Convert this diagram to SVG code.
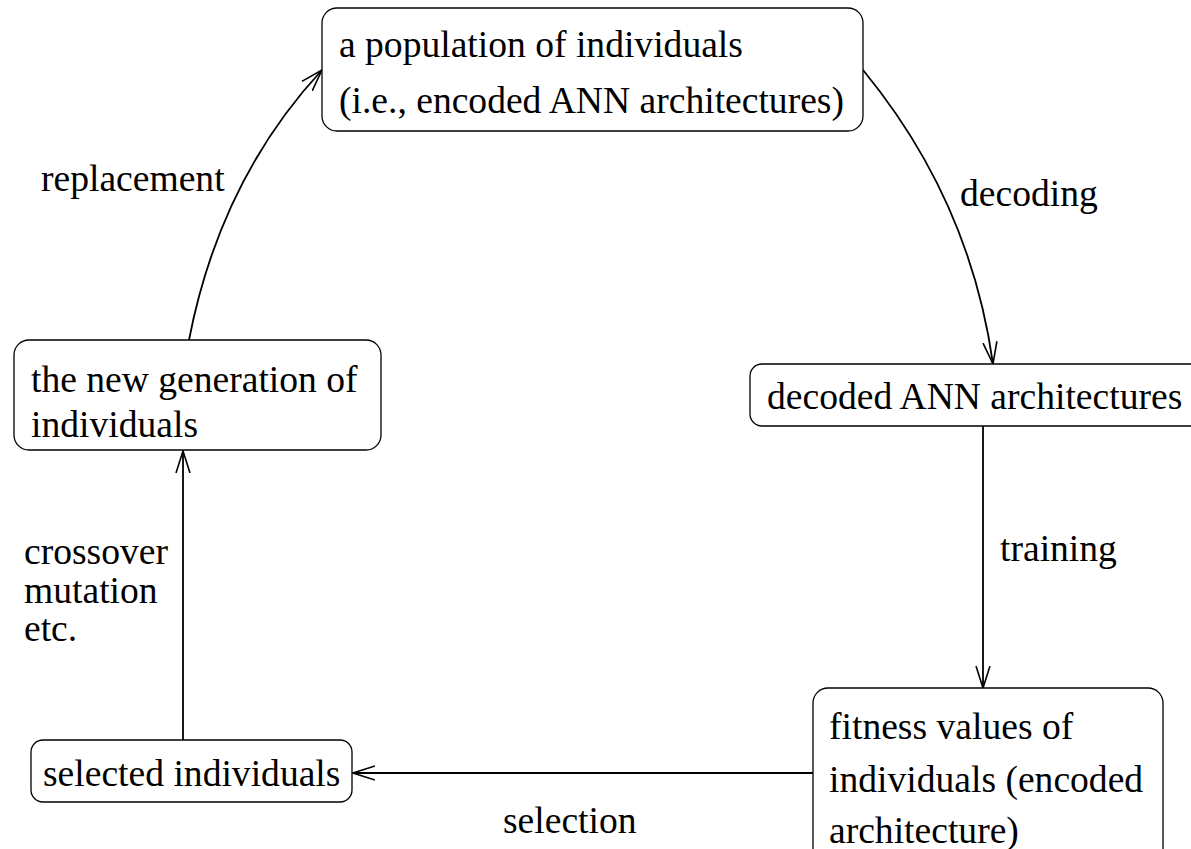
<svg xmlns="http://www.w3.org/2000/svg" width="1191" height="849" viewBox="0 0 1191 849">
<style>
.box{fill:#fff;stroke:#000;stroke-width:1.3}
.t{font-family:'Liberation Serif','Times New Roman',serif;font-size:37.6px;fill:#000}
.c{fill:none;stroke:#000;stroke-width:1.8}
</style>
<defs>
<marker id="a" markerWidth="24" markerHeight="16" refX="22" refY="8" orient="auto" markerUnits="userSpaceOnUse">
<path d="M0,1 L22,8 L0,15" fill="none" stroke="#000" stroke-width="1.6"/>
</marker>
</defs>
<rect width="1191" height="849" fill="#fff"/>
<g id="connectors">
<path class="c" d="M863,70 Q970,200 993,364" marker-end="url(#a)"/>
<path class="c" d="M983,426 L983,688" marker-end="url(#a)"/>
<path class="c" d="M813,773 L353,773" marker-end="url(#a)"/>
<path class="c" d="M183,740 L183,451" marker-end="url(#a)"/>
<path class="c" d="M189,340 Q220,180 322,70" marker-end="url(#a)"/>
</g>
<g id="n1"><rect class="box" x="322" y="8" width="541" height="123" rx="15"/>
<text class="t" x="339" y="57">a population of individuals</text>
<text class="t" x="339" y="113">(i.e., encoded ANN architectures)</text></g>
<g id="n2"><rect class="box" x="750" y="364" width="460" height="62" rx="12"/>
<text class="t" x="767" y="409">decoded ANN architectures</text></g>
<g id="n3"><rect class="box" x="813" y="688" width="350" height="180" rx="15"/>
<text class="t" x="829" y="739">fitness values of</text>
<text class="t" x="829" y="792">individuals (encoded</text>
<text class="t" x="829" y="843">architecture)</text></g>
<g id="n4"><rect class="box" x="31" y="740" width="321" height="62" rx="12"/>
<text class="t" x="43" y="786">selected individuals</text></g>
<g id="n5"><rect class="box" x="14" y="340" width="367" height="110" rx="15"/>
<text class="t" x="31" y="392">the new generation of</text>
<text class="t" x="31" y="437">individuals</text></g>
<g id="labels">
<text class="t" x="41" y="191">replacement</text>
<text class="t" x="960" y="206">decoding</text>
<text class="t" x="1000" y="561">training</text>
<text class="t" x="24" y="564">crossover</text>
<text class="t" x="24" y="603">mutation</text>
<text class="t" x="24" y="641">etc.</text>
<text class="t" x="503" y="833">selection</text>
</g>
</svg>
